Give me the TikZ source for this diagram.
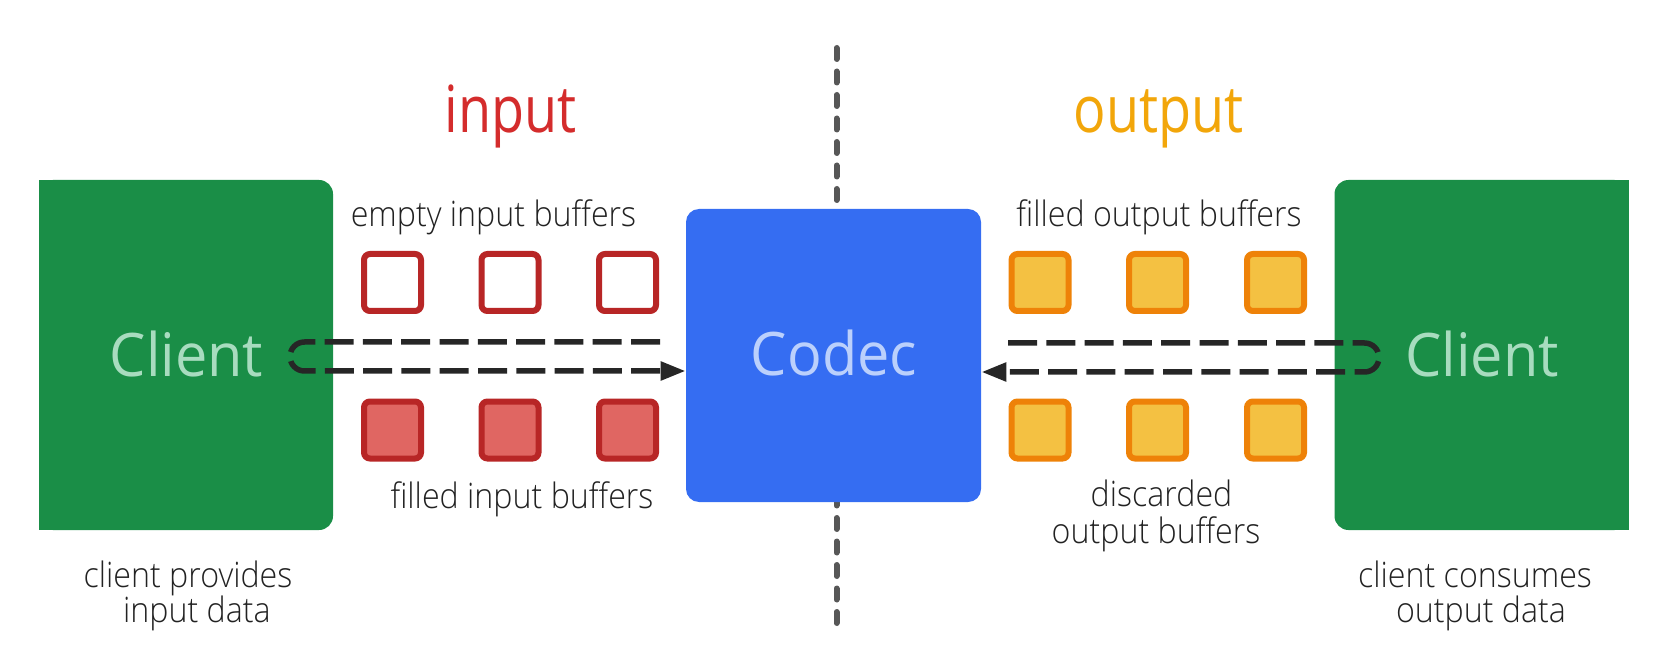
\documentclass[tikz,border=0pt]{standalone}
\usepackage{fontspec}
\setmainfont{Open Sans}
\newfontfamily\titlefont{Open Sans}[FakeStretch=0.83]
\newfontfamily\boxfont{Open Sans}[FakeStretch=0.96]
\newfontfamily\labelfont{Open Sans Light}[FakeStretch=0.92]
\usetikzlibrary{arrows.meta}

\definecolor{clientgreen}{HTML}{1A8E47}
\definecolor{clienttext}{HTML}{A8DCBF}
\definecolor{codecblue}{HTML}{356DF2}
\definecolor{codectext}{HTML}{BBD0FC}
\definecolor{inred}{HTML}{D42C2C}
\definecolor{inedge}{HTML}{B82626}
\definecolor{infill}{HTML}{E06662}
\definecolor{outorange}{HTML}{F2A60A}
\definecolor{outedge}{HTML}{EE8208}
\definecolor{outfill}{HTML}{F4C142}
\definecolor{labelgray}{HTML}{222222}
\definecolor{flowgray}{HTML}{262626}
\definecolor{dividergray}{HTML}{575757}

\tikzset{
  client/.style={fill=clientgreen, rounded corners=7pt, inner sep=0pt,
    minimum width=147pt, minimum height=175pt},
  codecbox/.style={fill=codecblue, rounded corners=6.5pt, inner sep=0pt,
    minimum width=147.5pt, minimum height=146.5pt},
  buf/.style={line width=3pt, rounded corners=3pt, inner sep=0pt,
    minimum size=28.5pt},
  emptybuf/.style={buf, draw=inedge, fill=white},
  fullbuf/.style={buf, draw=inedge, fill=infill},
  outbuf/.style={buf, draw=outedge, fill=outfill},
  title/.style={anchor=base, inner sep=0pt, font=\titlefont\fontsize{32.5}{36}\selectfont},
  boxlabel/.style={anchor=base, inner sep=0pt, font=\boxfont\fontsize{30}{34}\selectfont},
  caption/.style={anchor=base, inner sep=0pt, text=labelgray,
    font=\labelfont\fontsize{17.5}{20}\selectfont},
  flow/.style={draw=flowgray, line width=2.75pt, dash pattern=on 14.5pt off 4.65pt,
    rounded corners=7.25pt},
  divider/.style={draw=dividergray, line width=3pt, line cap=round,
    dash pattern=on 5.5pt off 6.25pt}
}

\begin{document}
\begin{tikzpicture}[x=0.5pt, y=-0.5pt]
\useasboundingbox (0,0) rectangle (1653,657);

% dashed divider between the input and output halves
\coordinate (divtop) at (836.5,48);
\coordinate (divbot) at (836.5,635);
\draw[divider] (divtop) -- (divbot);

% clients (square outer corners) and the codec
\node[client] (lclient) at (186,355) {};
\fill[clientgreen] (lclient.north west) rectangle ([xshift=20pt]lclient.south west);
\node[client] (rclient) at (1481.5,355) {};
\fill[clientgreen] (rclient.north east) rectangle ([xshift=-20pt]rclient.south east);
\node[codecbox] (codec) at (833.5,355.5) {};

\node[boxlabel, text=clienttext] (lclienttxt) at (186.5,377) {Client};
\node[boxlabel, text=clienttext] (rclienttxt) at (1482,377) {Client};
\node[boxlabel, text=codectext] (codectxt) at (834,376) {Codec};

% section titles
\node[title, text=inred] (intitle) at (510.5,133) {input};
\node[title, text=outorange] (outtitle) at (1158.5,133) {output};

% input buffers
\node[emptybuf] (e1) at (392.5,282.5) {};
\node[emptybuf] (e2) at (510,282.5) {};
\node[emptybuf] (e3) at (627.5,282.5) {};
\node[fullbuf] (f1) at (392.5,430) {};
\node[fullbuf] (f2) at (510,430) {};
\node[fullbuf] (f3) at (627.5,430) {};

% output buffers
\node[outbuf] (o1) at (1040,282.5) {};
\node[outbuf] (o2) at (1157.5,282.5) {};
\node[outbuf] (o3) at (1275.5,282.5) {};
\node[outbuf] (d1) at (1040,430) {};
\node[outbuf] (d2) at (1157.5,430) {};
\node[outbuf] (d3) at (1275.5,430) {};

% flow of buffers between client and codec
\coordinate (lstart) at (660,342);
\coordinate (lturn) at (290,342);
\draw[flow, -{Triangle[length=12.5pt, width=9pt]}]
  (lstart) -- (lturn) -- (290,371) -- (codec.west |- 0,371);
\coordinate (rstart) at (1008,343);
\coordinate (rturn) at (1379,343);
\draw[flow, -{Triangle[length=12.5pt, width=9pt]}]
  (rstart) -- (rturn) -- (1379,372) -- (codec.east |- 0,372);

% captions
\node[caption] (emptycap) at (493.5,227) {empty input buffers};
\node[caption] (filledincap) at (522,508) {filled input buffers};
\node[caption] (filledoutcap) at (1159,227) {filled output buffers};
\node[caption] (disc1) at (1161.5,506) {discarded};
\node[caption] (disc2) at (1156,543) {output buffers};
\node[caption] (prov1) at (188,587) {client provides};
\node[caption] (prov2) at (197,622) {input data};
\node[caption] (cons1) at (1475,587) {client consumes};
\node[caption] (cons2) at (1481,622) {output data};
\end{tikzpicture}
\end{document}
